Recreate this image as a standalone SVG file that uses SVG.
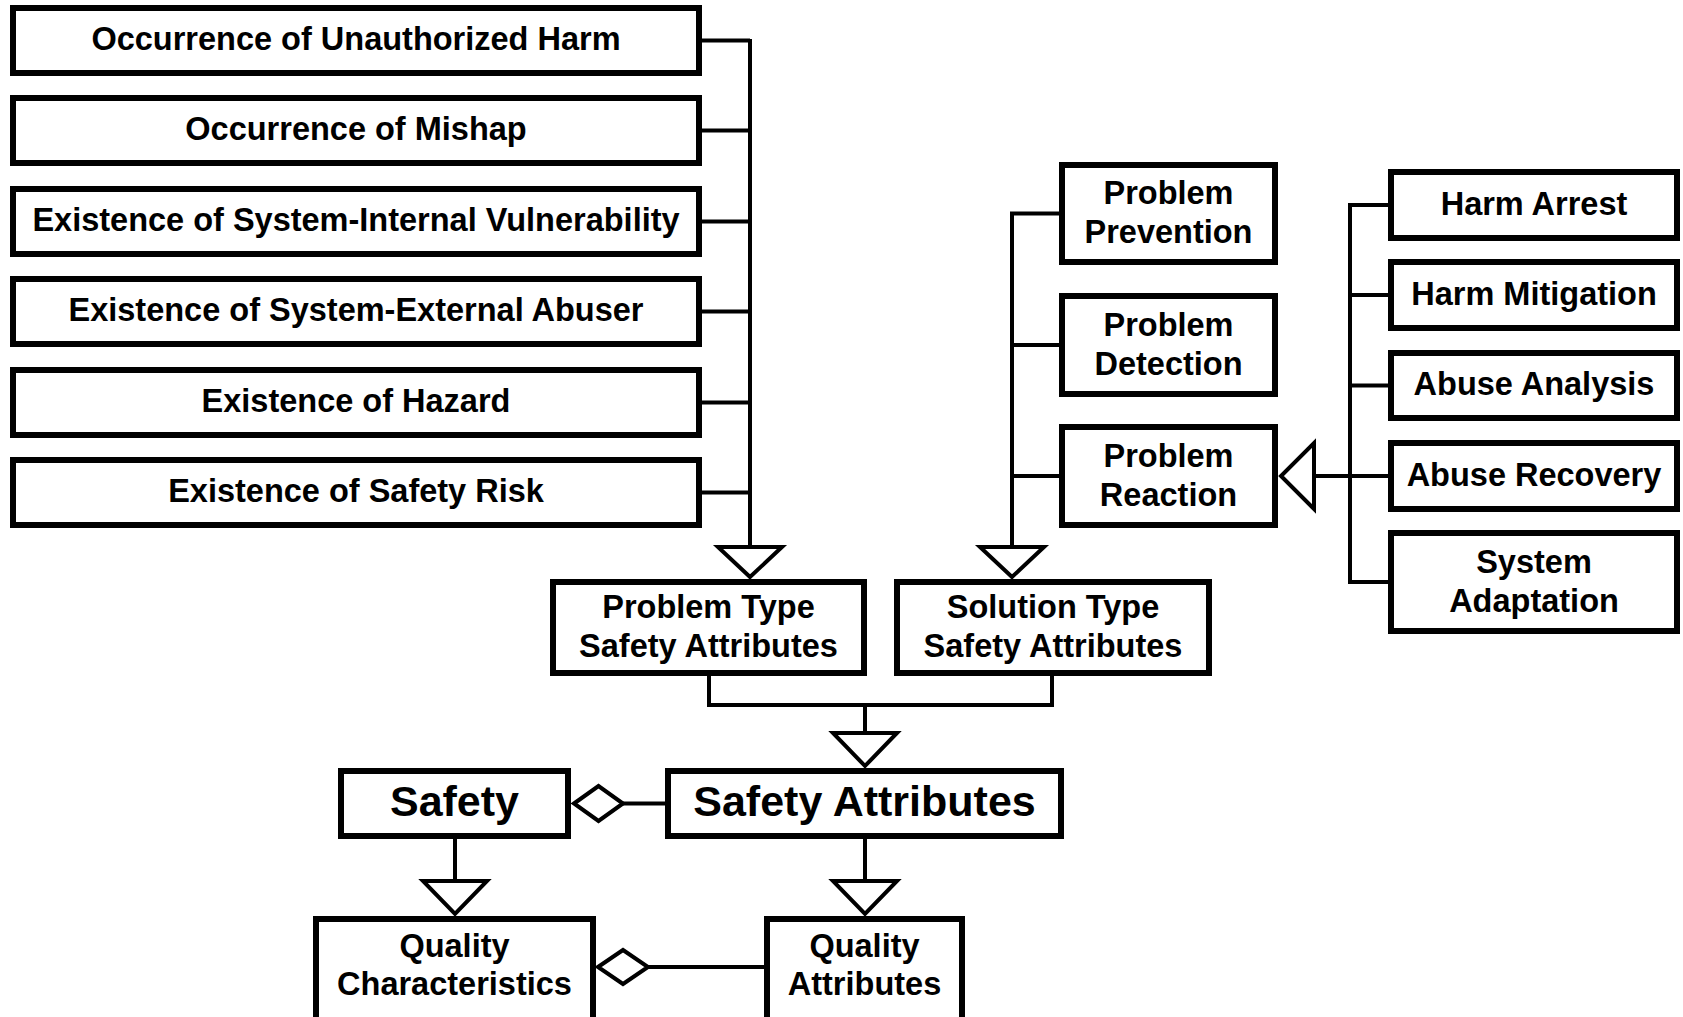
<svg xmlns="http://www.w3.org/2000/svg" width="1683" height="1017" viewBox="0 0 1683 1017">
  <style>
    .box { fill: #fff; stroke: #000; stroke-width: 6; }
    .lbl { font-family: "Liberation Sans", Arial, sans-serif; font-weight: bold; font-size: 32.5px; text-anchor: middle; fill: #000; }
    .big { font-size: 43px; }
    .wire { fill: none; stroke: #000; stroke-width: 4; }
    .head { fill: #fff; stroke: #000; stroke-width: 4; stroke-linejoin: miter; }
  </style>
  <rect width="1683" height="1017" fill="#fff"/>

  <!-- connectors: generalization buses, triangles and aggregation diamonds -->
  <g id="connectors">
    <!-- problem-type bus -->
    <path class="wire" d="M750 39 V547 M699 40.5 H750 M699 130.5 H750 M699 221.5 H750 M699 311.5 H750 M699 402.5 H750 M699 492.5 H750"/>
    <polygon class="head" points="718,547 782,547 750,577"/>
    <!-- solution-type bus -->
    <path class="wire" d="M1012 211.5 V547 M1012 213.5 H1062 M1012 345 H1062 M1012 476 H1062"/>
    <polygon class="head" points="980,547 1044,547 1012,577"/>
    <!-- problem reaction bus -->
    <path class="wire" d="M1350 203 V584 M1350 205 H1391 M1350 295 H1391 M1350 385.5 H1391 M1350 476 H1391 M1350 582 H1391 M1314 476 H1350"/>
    <polygon class="head" points="1314,443 1314,509 1281,476"/>
    <!-- problem/solution type to safety attributes -->
    <path class="wire" d="M709 676 V705 H1052 V676 M865 705 V733"/>
    <polygon class="head" points="833,733 897,733 865,766"/>
    <!-- safety to quality characteristics -->
    <path class="wire" d="M455 839 V881"/>
    <polygon class="head" points="423,881 487,881 455,914"/>
    <!-- safety attributes to quality attributes -->
    <path class="wire" d="M865 839 V881"/>
    <polygon class="head" points="833,881 897,881 865,914"/>
    <!-- aggregation: safety attributes part of safety -->
    <path class="wire" d="M623 803.5 H668"/>
    <polygon class="head" points="574,803.5 598.5,786 623,803.5 598.5,821"/>
    <!-- aggregation: quality attributes part of quality characteristics -->
    <path class="wire" d="M648 967 H767"/>
    <polygon class="head" points="598,967 623,950 648,967 623,984"/>
  </g>

  <!-- problem type nodes -->
  <g id="occurrence-unauthorized-harm"><rect class="box" x="13" y="8" width="686" height="65"/><text class="lbl" x="356" y="50">Occurrence of Unauthorized Harm</text></g>
  <g id="occurrence-mishap"><rect class="box" x="13" y="98" width="686" height="65"/><text class="lbl" x="356" y="140">Occurrence of Mishap</text></g>
  <g id="existence-internal-vulnerability"><rect class="box" x="13" y="189" width="686" height="65"/><text class="lbl" x="356" y="231">Existence of System-Internal Vulnerability</text></g>
  <g id="existence-external-abuser"><rect class="box" x="13" y="279" width="686" height="65"/><text class="lbl" x="356" y="321">Existence of System-External Abuser</text></g>
  <g id="existence-hazard"><rect class="box" x="13" y="370" width="686" height="65"/><text class="lbl" x="356" y="412">Existence of Hazard</text></g>
  <g id="existence-safety-risk"><rect class="box" x="13" y="460" width="686" height="65"/><text class="lbl" x="356" y="502">Existence of Safety Risk</text></g>

  <!-- solution type nodes -->
  <g id="problem-prevention"><rect class="box" x="1062" y="165" width="213" height="97"/><text class="lbl" x="1168.5" y="204">Problem</text><text class="lbl" x="1168.5" y="243">Prevention</text></g>
  <g id="problem-detection"><rect class="box" x="1062" y="296" width="213" height="98"/><text class="lbl" x="1168.5" y="335.5">Problem</text><text class="lbl" x="1168.5" y="374.5">Detection</text></g>
  <g id="problem-reaction"><rect class="box" x="1062" y="427" width="213" height="98"/><text class="lbl" x="1168.5" y="466.5">Problem</text><text class="lbl" x="1168.5" y="505.5">Reaction</text></g>

  <!-- reaction kinds -->
  <g id="harm-arrest"><rect class="box" x="1391" y="172" width="286" height="66"/><text class="lbl" x="1534" y="214.5">Harm Arrest</text></g>
  <g id="harm-mitigation"><rect class="box" x="1391" y="262" width="286" height="66"/><text class="lbl" x="1534" y="304.5">Harm Mitigation</text></g>
  <g id="abuse-analysis"><rect class="box" x="1391" y="353" width="286" height="65"/><text class="lbl" x="1534" y="395">Abuse Analysis</text></g>
  <g id="abuse-recovery"><rect class="box" x="1391" y="443" width="286" height="66"/><text class="lbl" x="1534" y="485.5">Abuse Recovery</text></g>
  <g id="system-adaptation"><rect class="box" x="1391" y="533" width="286" height="98"/><text class="lbl" x="1534" y="573">System</text><text class="lbl" x="1534" y="612">Adaptation</text></g>

  <!-- attribute categories -->
  <g id="problem-type-safety-attributes"><rect class="box" x="553" y="582" width="311" height="91"/><text class="lbl" x="708.5" y="618">Problem Type</text><text class="lbl" x="708.5" y="657">Safety Attributes</text></g>
  <g id="solution-type-safety-attributes"><rect class="box" x="897" y="582" width="312" height="91"/><text class="lbl" x="1053" y="618">Solution Type</text><text class="lbl" x="1053" y="657">Safety Attributes</text></g>
  <g id="safety-attributes"><rect class="box" x="668" y="771" width="393" height="65"/><text class="lbl big" x="864.5" y="816">Safety Attributes</text></g>
  <g id="safety"><rect class="box" x="341" y="771" width="227" height="65"/><text class="lbl big" x="454.5" y="816">Safety</text></g>
  <g id="quality-characteristics"><rect class="box" x="316" y="919" width="277" height="110"/><text class="lbl" x="454.5" y="957">Quality</text><text class="lbl" x="454.5" y="995">Characteristics</text></g>
  <g id="quality-attributes"><rect class="box" x="767" y="919" width="195" height="110"/><text class="lbl" x="864.5" y="957">Quality</text><text class="lbl" x="864.5" y="995">Attributes</text></g>
</svg>
